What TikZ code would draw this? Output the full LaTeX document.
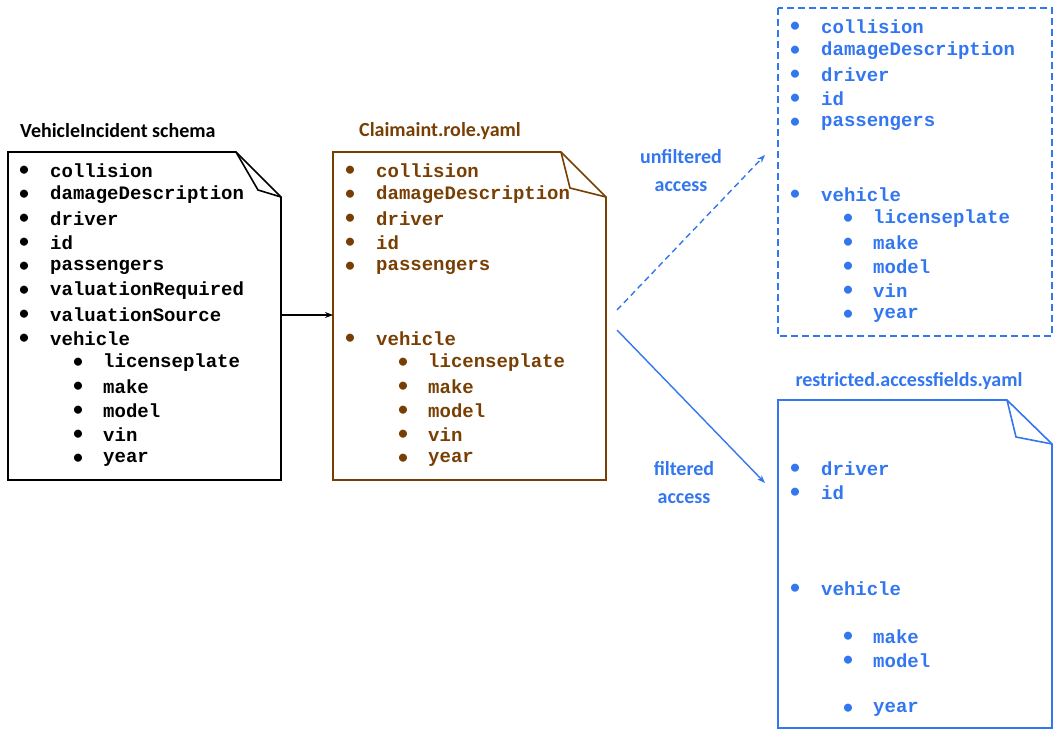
\documentclass[tikz,border=0pt]{standalone}
\usepackage{fontspec}
\setmainfont{Carlito}
\setmonofont{Liberation Mono}
\usetikzlibrary{arrows.meta, positioning}
\definecolor{claimbrown}{RGB}{120,63,4}
\definecolor{accessblue}{RGB}{50,118,240}
\tikzset{
x=1pt, y=-1pt,
>={Stealth[length=8pt,width=6pt]}, % arrow heads
item/.style={anchor=west, inner sep=0pt, font=\fontsize{19}{22}\selectfont\ttfamily\bfseries},
dot/.style={anchor=center, inner sep=0pt, font=\fontsize{19}{22}\selectfont\bfseries},
title/.style={inner sep=0pt, font=\fontsize{20}{24}\selectfont\bfseries},
doc/.style={line width=1.6pt},
}
\newcommand{\listitem}[5]{% colour, bullet x, text x, y, text
  \node[dot, text=#1] at (#2,#4) {\textbullet};
  \node[item, text=#1] at (#3,#4) {#5};}

\begin{document}
\begin{tikzpicture}
\useasboundingbox (0,0) rectangle (1059,733);

% schema document
\draw[doc] (8,152) -- (236,152) -- (281,197) -- (281,480) -- (8,480) -- cycle;
\draw[doc] (236,152) -- (258,190) -- (281,197);
\node[title, anchor=west] (schema) at (20,131) {VehicleIncident schema};
\foreach \y/\t in {171/collision, 195/damageDescription, 219/driver, 243/id,
  267/passengers, 291/valuationRequired, 315/valuationSource, 339/vehicle}
  {\listitem{black}{24}{50}{\y}{\t}}
\foreach \y/\t in {363/licenseplate, 387/make, 411/model, 435/vin, 459/year}
  {\listitem{black}{78}{103}{\y}{\t}}

% role document
\draw[doc, claimbrown] (333,152) -- (561,152) -- (606,197) -- (606,480) -- (333,480) -- cycle;
\draw[doc, claimbrown] (561,152) -- (570,188) -- (606,197);
\node[title, text=claimbrown] (role) at (440,131) {Claimaint.role.yaml};
\foreach \y/\t in {171/collision, 195/damageDescription, 219/driver, 243/id,
  267/passengers, 339/vehicle}
  {\listitem{claimbrown}{350}{376}{\y}{\t}}
\foreach \y/\t in {363/licenseplate, 387/make, 411/model, 435/vin, 459/year}
  {\listitem{claimbrown}{403}{428}{\y}{\t}}

% unfiltered result
\draw[doc, accessblue, dashed, dash pattern=on 7pt off 4pt] (778,8) rectangle (1052,336);
\foreach \y/\t in {27/collision, 51/damageDescription, 75/driver, 99/id,
  123/passengers, 195/vehicle}
  {\listitem{accessblue}{795}{821}{\y}{\t}}
\foreach \y/\t in {219/licenseplate, 243/make, 267/model, 291/vin, 315/year}
  {\listitem{accessblue}{848}{873}{\y}{\t}}

% filtered result
\draw[doc, accessblue] (778,400) -- (1007,400) -- (1052,444) -- (1052,728) -- (778,728) -- cycle;
\draw[doc, accessblue] (1007,400) -- (1016,437) -- (1052,444);
\node[title, text=accessblue] (fields) at (909,381) {restricted.accessfields.yaml};
\foreach \y/\t in {469/driver, 493/id, 589/vehicle}
  {\listitem{accessblue}{795}{821}{\y}{\t}}
\foreach \y/\t in {637/make, 661/model, 709/year}
  {\listitem{accessblue}{848}{873}{\y}{\t}}

% connectors
\coordinate (schemaout) at (281,315);
\coordinate (rolein) at (333,315);
\coordinate (roleup) at (617,310);
\coordinate (roledown) at (617,330);
\coordinate (openin) at (765,155);
\coordinate (filterin) at (765,483);
\draw[->, line width=1.2pt] (schemaout) -- (rolein);
\draw[->, accessblue, line width=1.4pt, dashed, dash pattern=on 6pt off 4pt] (roleup) -- (openin);
\draw[->, accessblue, line width=1.4pt] (roledown) -- (filterin);
\node[title, text=accessblue, align=center, font=\fontsize{20}{28}\selectfont\bfseries]
  (openlabel) at (681,171) {unfiltered\\access};
\node[title, text=accessblue, align=center, font=\fontsize{20}{28}\selectfont\bfseries]
  (filterlabel) at (684,483) {filtered\\access};
\end{tikzpicture}
\end{document}
